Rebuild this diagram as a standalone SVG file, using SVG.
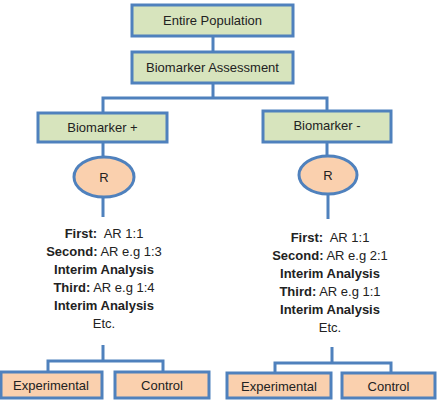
<svg xmlns="http://www.w3.org/2000/svg" width="438" height="400" viewBox="0 0 438 400">
<style>
.g{fill:#D7E4BD;stroke:#4F81BD;stroke-width:3}
.o{fill:#FAD0AE;stroke:#4F81BD;stroke-width:3}
.c{fill:none;stroke:#4F81BD;stroke-width:3}
text{font-family:"Liberation Sans",Arial,sans-serif;font-size:13px;fill:#222;text-anchor:middle;white-space:pre}
.b{font-weight:bold}
</style>
<rect width="438" height="400" fill="#fff"/>
<g id="connectors">
<path class="c" d="M213 36V52"/>
<path class="c" d="M213 83V98M103 113V98H327V111"/>
<path class="c" d="M103 142V157M103 197V217"/>
<path class="c" d="M327 142V156M328 194V219"/>
<path class="c" d="M103 345V361M48 372V361H163V372"/>
<path class="c" d="M332 347V363M275 373V363H391V373"/>
</g>
<g id="entire-population"><rect class="g" x="132" y="5" width="161" height="31"/><text x="212.5" y="25">Entire Population</text></g>
<g id="biomarker-assessment"><rect class="g" x="132" y="52" width="161" height="31"/><text x="212.5" y="72">Biomarker Assessment</text></g>
<g id="biomarker-plus"><rect class="g" x="38" y="113" width="129" height="29"/><text x="102.5" y="132">Biomarker +</text></g>
<g id="biomarker-minus"><rect class="g" x="263" y="111" width="128" height="31"/><text x="327" y="130">Biomarker -</text></g>
<g id="r-left"><ellipse class="o" cx="104" cy="177" rx="30" ry="20"/><text x="104" y="182">R</text></g>
<g id="r-right"><ellipse class="o" cx="328" cy="175" rx="29" ry="19"/><text x="328" y="180">R</text></g>
<g id="schedule-left">
<text x="104" y="238"><tspan class="b">First:</tspan>  AR 1:1</text>
<text x="104" y="256"><tspan class="b">Second:</tspan> AR e.g 1:3</text>
<text x="104" y="274" class="b">Interim Analysis</text>
<text x="104" y="292"><tspan class="b">Third:</tspan> AR e.g 1:4</text>
<text x="104" y="310" class="b">Interim Analysis</text>
<text x="104" y="328">Etc.</text>
</g>
<g id="schedule-right">
<text x="330" y="242"><tspan class="b">First:</tspan>  AR 1:1</text>
<text x="330" y="260"><tspan class="b">Second:</tspan> AR e.g 2:1</text>
<text x="330" y="278" class="b">Interim Analysis</text>
<text x="330" y="296"><tspan class="b">Third:</tspan> AR e.g 1:1</text>
<text x="330" y="314" class="b">Interim Analysis</text>
<text x="330" y="332">Etc.</text>
</g>
<g id="experimental-left"><rect class="o" x="1" y="372" width="101" height="26"/><text x="51" y="390">Experimental</text></g>
<g id="control-left"><rect class="o" x="115" y="372" width="94" height="26"/><text x="162" y="390">Control</text></g>
<g id="experimental-right"><rect class="o" x="227" y="373" width="104" height="25"/><text x="279" y="391">Experimental</text></g>
<g id="control-right"><rect class="o" x="342" y="373" width="93" height="25"/><text x="388.5" y="391">Control</text></g>
</svg>
